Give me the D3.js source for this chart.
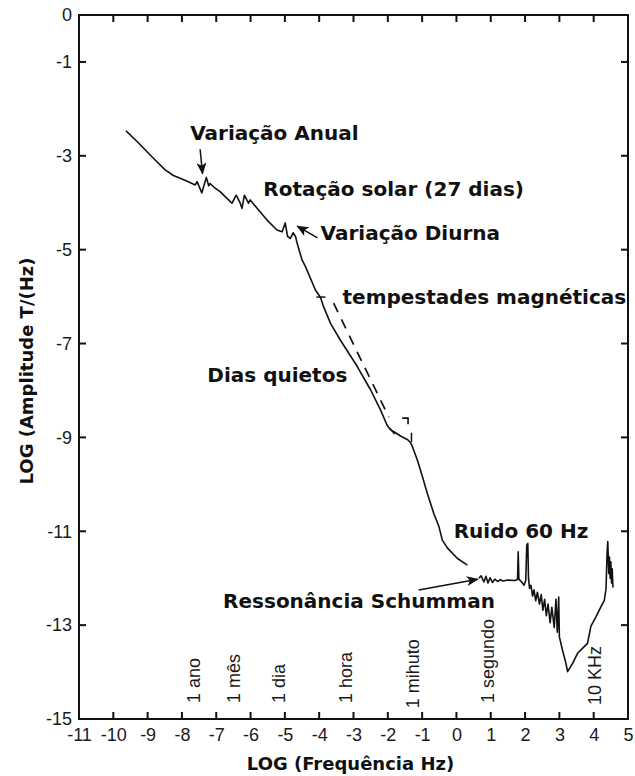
<!DOCTYPE html>
<html>
<head>
<meta charset="utf-8">
<script src="https://cdn.jsdelivr.net/npm/d3@7"></script>
<style>
  body { margin: 0; background: #fff; }
  svg { display: block; }
  .tick text { font-family: "Liberation Sans", Arial, sans-serif; font-size: 18px; fill: #1a1a1a; }
  .ann { font-family: "DejaVu Sans", sans-serif; font-weight: bold; font-size: 20px; fill: #111; }
  .period { font-family: "Liberation Sans", Arial, sans-serif; font-size: 18px; fill: #1a1a1a; }
  .title { font-family: "DejaVu Sans", sans-serif; font-weight: bold; font-size: 18px; fill: #111; }
</style>
</head>
<body>
<div id="chart"></div>
<script>
// axis ticks
const xTicks = d3.range(-11, 6);
const yTickLabels = [0, -1, -3, -5, -7, -9, -11, -13, -15];
const yTicksRight = [-1, -3, -5, -7, -9, -11, -13];

// spectrum, low frequencies (quiet days) : [log f, log amplitude]
const quietDays = [
  [-9.63, -2.47], [-9.30, -2.70], [-9.01, -2.92], [-8.78, -3.09], [-8.49, -3.30],
  [-8.25, -3.42], [-8.05, -3.48], [-7.80, -3.56], [-7.61, -3.62], [-7.56, -3.55],
  [-7.42, -3.79], [-7.29, -3.46], [-7.22, -3.64], [-7.18, -3.59], [-7.08, -3.66],
  [-6.88, -3.77], [-6.74, -3.87], [-6.54, -4.01], [-6.42, -3.84], [-6.30, -4.01],
  [-6.25, -4.12], [-6.18, -3.84], [-6.06, -4.01], [-6.01, -3.94], [-5.81, -4.12],
  [-5.52, -4.37], [-5.23, -4.58], [-5.08, -4.62], [-4.99, -4.43], [-4.92, -4.72],
  [-4.84, -4.76], [-4.76, -4.64], [-4.69, -4.72], [-4.64, -4.87], [-4.50, -5.22],
  [-4.40, -5.36], [-4.11, -5.86], [-3.96, -6.02], [-3.87, -6.22], [-3.67, -6.57],
  [-3.38, -6.93], [-2.89, -7.49], [-2.50, -7.99], [-2.21, -8.42], [-2.02, -8.74],
  [-1.92, -8.84], [-1.82, -8.88], [-1.63, -8.97], [-1.42, -9.05], [-1.33, -9.12],
  [-1.26, -9.24], [-1.14, -9.48], [-0.99, -9.84], [-0.85, -10.19], [-0.66, -10.62],
  [-0.51, -10.90], [-0.41, -11.19], [-0.26, -11.36], [0.03, -11.58], [0.32, -11.72]
];

// Schumann resonances, 60 Hz noise and VLF part
const highBand = [
  [0.65, -12.00], [0.72, -11.95], [0.80, -12.08], [0.86, -11.96], [0.92, -12.10],
  [0.98, -11.99], [1.05, -12.09], [1.12, -12.02], [1.20, -12.07], [1.28, -12.03],
  [1.36, -12.06], [1.50, -12.04], [1.70, -12.05], [1.78, -12.03], [1.80, -11.44],
  [1.82, -12.02], [1.90, -12.08], [1.97, -12.15], [2.02, -12.05], [2.05, -11.29],
  [2.08, -11.26], [2.10, -12.00], [2.13, -12.22], [2.17, -12.15], [2.22, -12.38],
  [2.26, -12.25], [2.31, -12.48], [2.36, -12.30], [2.42, -12.55], [2.47, -12.35],
  [2.52, -12.68], [2.57, -12.45], [2.62, -12.80], [2.67, -12.55], [2.73, -12.95],
  [2.78, -12.62], [2.85, -13.05], [2.90, -12.45], [2.94, -13.15], [2.98, -12.40],
  [3.00, -13.25], [3.09, -13.53], [3.19, -13.81], [3.24, -13.99], [3.39, -13.81],
  [3.53, -13.60], [3.68, -13.49], [3.82, -13.39], [3.92, -13.02], [4.07, -12.82],
  [4.21, -12.61], [4.31, -12.47], [4.36, -12.22], [4.39, -11.47], [4.41, -11.22],
  [4.44, -11.90], [4.46, -11.55], [4.48, -12.00], [4.50, -11.65], [4.52, -12.10],
  [4.54, -11.80], [4.56, -12.20]
];

// magnetic storms (dashed) and the small hook at its end
const stormDashed = [[-3.58, -6.14], [-1.97, -8.57]];
const stormHook = [[-1.58, -8.59], [-1.41, -8.59], [-1.41, -8.72]];

// little cross marks on the curve
const curveTicks = [
  [[-4.08, -6.01], [-3.82, -6.01]],
  [[-1.95, -8.80], [-1.80, -8.93]],
  [[-1.31, -8.90], [-1.31, -9.10]]
];

// period labels (rotated)
const periodLabels = ["1 ano", "1 mês", "1 dia", "1 hora", "1 mihuto", "1 segundo", "10 KHz"];
const periodX = [-7.48, -6.31, -5.00, -3.04, -1.09, 1.09, 4.20];
const periodY = [-14.66, -14.66, -14.66, -14.66, -14.77, -14.66, -14.70];

// annotations
const annLabels = ["Variação Anual", "Rotação solar (27 dias)", "Variação Diurna",
  "tempestades magnéticas", "Dias quietos", "Ruido 60 Hz", "Ressonância Schumman"];
const annX = [-7.76, -5.63, -3.96, -3.32, -7.26, -0.08, -6.80];
const annY = [-2.66, -3.86, -4.80, -6.16, -7.82, -11.14, -12.64];

// arrows: [from, to]
const arrows = [
  [[-7.47, -2.86], [-7.40, -3.38]],
  [[-4.05, -4.75], [-4.64, -4.50]],
  [[-1.10, -12.25], [0.62, -12.02]]
];

const width = 635, height = 776;
const margin = { top: 15, right: 7, bottom: 57, left: 79 };
const tickLen = 7;
const ink = "#111";

const x = d3.scaleLinear().domain([-11, 5]).range([margin.left, width - margin.right]);
const y = d3.scaleLinear().domain([-15, 0]).range([height - margin.bottom, margin.top]);

const svg = d3.select("#chart").append("svg")
  .attr("width", width)
  .attr("height", height);

svg.append("rect").attr("width", width).attr("height", height).attr("fill", "#fff");

const defs = svg.append("defs");
defs.append("marker")
  .attr("id", "head")
  .attr("viewBox", "0 0 12 10")
  .attr("refX", 11).attr("refY", 5)
  .attr("markerWidth", 12).attr("markerHeight", 10)
  .attr("markerUnits", "userSpaceOnUse")
  .attr("orient", "auto")
  .append("path")
  .attr("d", "M0,0 L12,5 L0,10 L3,5 Z")
  .attr("fill", ink);

// axis labels (d3 axes, no tick lines)
const fmt = d => String(d);
svg.append("g")
  .attr("transform", `translate(0,${y(-15)})`)
  .call(d3.axisBottom(x).tickValues(xTicks).tickFormat(fmt).tickSize(0).tickPadding(9))
  .call(g => g.select(".domain").remove());
svg.append("g")
  .attr("transform", `translate(${x(-11)},0)`)
  .call(d3.axisLeft(y).tickValues(yTickLabels).tickFormat(fmt).tickSize(0).tickPadding(7))
  .call(g => g.select(".domain").remove());

// frame: four sides
const frame = svg.append("g").attr("stroke", ink).attr("stroke-width", 2).attr("stroke-linecap", "square");
frame.append("line").attr("x1", x(-11)).attr("x2", x(5)).attr("y1", y(0)).attr("y2", y(0));
frame.append("line").attr("x1", x(-11)).attr("x2", x(5)).attr("y1", y(-15)).attr("y2", y(-15));
frame.append("line").attr("x1", x(-11)).attr("x2", x(-11)).attr("y1", y(0)).attr("y2", y(-15));
frame.append("line").attr("x1", x(5)).attr("x2", x(5)).attr("y1", y(0)).attr("y2", y(-15));

// inward tick marks
const tk = svg.append("g").attr("stroke", ink).attr("stroke-width", 2);
tk.selectAll("line.tb").data(xTicks).enter().append("line").attr("class", "tb")
  .attr("x1", d => x(d)).attr("x2", d => x(d))
  .attr("y1", y(-15)).attr("y2", y(-15) - tickLen);
tk.selectAll("line.tt").data(xTicks).enter().append("line").attr("class", "tt")
  .attr("x1", d => x(d)).attr("x2", d => x(d))
  .attr("y1", y(0)).attr("y2", y(0) + tickLen);
tk.selectAll("line.tl").data(yTickLabels).enter().append("line").attr("class", "tl")
  .attr("x1", x(-11)).attr("x2", x(-11) + tickLen)
  .attr("y1", d => y(d)).attr("y2", d => y(d));
tk.selectAll("line.tr").data(yTicksRight).enter().append("line").attr("class", "tr")
  .attr("x1", x(5)).attr("x2", x(5) - tickLen)
  .attr("y1", d => y(d)).attr("y2", d => y(d));

// axis titles
svg.append("text").attr("class", "title")
  .attr("x", (x(-11) + x(5)) / 2 - 3)
  .attr("y", 770)
  .attr("text-anchor", "middle")
  .text("LOG (Frequência Hz)");
svg.append("text").attr("class", "title")
  .attr("transform", `translate(33,${(y(0) + y(-15)) / 2 + 4}) rotate(-90)`)
  .attr("text-anchor", "middle")
  .text("LOG (Amplitude T/(Hz)");

// curves
const line = d3.line().x(d => x(d[0])).y(d => y(d[1]));
svg.append("path").datum(quietDays)
  .attr("d", line).attr("fill", "none")
  .attr("stroke", ink).attr("stroke-width", 1.6).attr("stroke-linejoin", "round");
svg.append("path").datum(highBand)
  .attr("d", line).attr("fill", "none")
  .attr("stroke", ink).attr("stroke-width", 1.6).attr("stroke-linejoin", "round");
svg.append("path").datum(stormDashed)
  .attr("d", line).attr("fill", "none")
  .attr("stroke", ink).attr("stroke-width", 1.7).attr("stroke-dasharray", "10,8");
svg.append("path").datum(stormHook)
  .attr("d", line).attr("fill", "none")
  .attr("stroke", ink).attr("stroke-width", 1.6);
svg.selectAll("path.ctick").data(curveTicks).enter().append("path").attr("class", "ctick")
  .attr("d", line).attr("fill", "none")
  .attr("stroke", ink).attr("stroke-width", 1.5);

// period labels
svg.selectAll("text.period").data(periodLabels).enter().append("text")
  .attr("class", "period")
  .attr("transform", (d, i) => `translate(${x(periodX[i])},${y(periodY[i])}) rotate(-90)`)
  .text(d => d);

// annotations
svg.selectAll("text.ann").data(annLabels).enter().append("text")
  .attr("class", "ann")
  .attr("x", (d, i) => x(annX[i]))
  .attr("y", (d, i) => y(annY[i]))
  .text(d => d);

svg.selectAll("path.arrow").data(arrows).enter().append("path").attr("class", "arrow")
  .attr("d", line).attr("fill", "none")
  .attr("stroke", ink).attr("stroke-width", 1.5)
  .attr("marker-end", "url(#head)");
</script>
</body>
</html>
